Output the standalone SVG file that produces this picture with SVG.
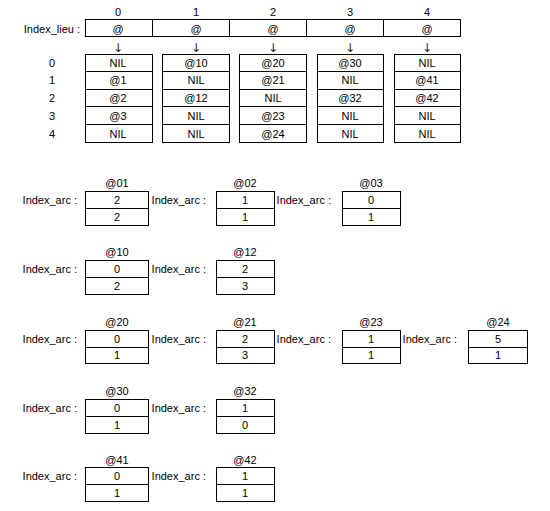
<svg xmlns="http://www.w3.org/2000/svg" width="550" height="511" viewBox="0 0 550 511">
<style>
text{font-family:"Liberation Sans","DejaVu Sans",sans-serif;font-size:11px;fill:#000}
.c{text-anchor:middle}
.r{text-anchor:end}
.a{font-family:"DejaVu Sans",sans-serif;font-size:12px;fill:#222}
.b{fill:#fff;stroke:#000;stroke-width:1}
.l{stroke:#000;stroke-width:1}
</style>
<rect width="550" height="511" fill="#fff"/>
<g id="index_lieu">
<text class="r" x="80" y="33">Index_lieu :</text>
<rect class="b" x="85.5" y="19.5" width="375" height="17"/>
<path class="l" d="M152.5 19.5V36.5M229.5 19.5V36.5M306.5 19.5V36.5M383.5 19.5V36.5"/>
<text class="c" x="118" y="16">0</text><text class="c" x="196" y="16">1</text><text class="c" x="273" y="16">2</text><text class="c" x="350" y="16">3</text><text class="c" x="427" y="16">4</text>
<text class="c" x="118" y="33">@</text><text class="c" x="196" y="33">@</text><text class="c" x="273" y="33">@</text><text class="c" x="350" y="33">@</text><text class="c" x="427" y="33">@</text>
</g>
<g id="connectors">
<text class="c a" x="118" y="52">↓</text><text class="c a" x="196" y="52">↓</text><text class="c a" x="273" y="52">↓</text><text class="c a" x="350" y="52">↓</text><text class="c a" x="427" y="52">↓</text>
</g>
<g id="row_labels">
<text class="c" x="52" y="67">0</text><text class="c" x="52" y="84">1</text><text class="c" x="52" y="102">2</text><text class="c" x="52" y="120">3</text><text class="c" x="52" y="138">4</text>
</g>
<g id="col0">
<rect class="b" x="85.5" y="54.5" width="67" height="88"/>
<path class="l" d="M85.5 71.5H152.5M85.5 89.5H152.5M85.5 106.5H152.5M85.5 124.5H152.5"/>
<text class="c" x="118" y="67">NIL</text><text class="c" x="118" y="84">@1</text><text class="c" x="118" y="102">@2</text><text class="c" x="118" y="120">@3</text><text class="c" x="118" y="138">NIL</text>
</g>
<g id="col1">
<rect class="b" x="162.5" y="54.5" width="67" height="88"/>
<path class="l" d="M162.5 71.5H229.5M162.5 89.5H229.5M162.5 106.5H229.5M162.5 124.5H229.5"/>
<text class="c" x="196" y="67">@10</text><text class="c" x="196" y="84">NIL</text><text class="c" x="196" y="102">@12</text><text class="c" x="196" y="120">NIL</text><text class="c" x="196" y="138">NIL</text>
</g>
<g id="col2">
<rect class="b" x="239.5" y="54.5" width="67" height="88"/>
<path class="l" d="M239.5 71.5H306.5M239.5 89.5H306.5M239.5 106.5H306.5M239.5 124.5H306.5"/>
<text class="c" x="273" y="67">@20</text><text class="c" x="273" y="84">@21</text><text class="c" x="273" y="102">NIL</text><text class="c" x="273" y="120">@23</text><text class="c" x="273" y="138">@24</text>
</g>
<g id="col3">
<rect class="b" x="317.5" y="54.5" width="66" height="88"/>
<path class="l" d="M317.5 71.5H383.5M317.5 89.5H383.5M317.5 106.5H383.5M317.5 124.5H383.5"/>
<text class="c" x="350" y="67">@30</text><text class="c" x="350" y="84">NIL</text><text class="c" x="350" y="102">@32</text><text class="c" x="350" y="120">NIL</text><text class="c" x="350" y="138">NIL</text>
</g>
<g id="col4">
<rect class="b" x="394.5" y="54.5" width="66" height="88"/>
<path class="l" d="M394.5 71.5H460.5M394.5 89.5H460.5M394.5 106.5H460.5M394.5 124.5H460.5"/>
<text class="c" x="427" y="67">NIL</text><text class="c" x="427" y="84">@41</text><text class="c" x="427" y="102">@42</text><text class="c" x="427" y="120">NIL</text><text class="c" x="427" y="138">NIL</text>
</g>

<g id="arc01">
<text class="c" x="117" y="187">@01</text><text class="r" x="77" y="204">Index_arc :</text>
<rect class="b" x="85.5" y="191.5" width="63" height="34"/><path class="l" d="M85.5 208.5H148.5"/>
<text class="c" x="117" y="204">2</text><text class="c" x="117" y="221">2</text>
</g>
<g id="arc02">
<text class="c" x="245" y="187">@02</text><text class="r" x="206" y="204">Index_arc :</text>
<rect class="b" x="216.5" y="191.5" width="58" height="34"/><path class="l" d="M216.5 208.5H274.5"/>
<text class="c" x="245" y="204">1</text><text class="c" x="245" y="221">1</text>
</g>
<g id="arc03">
<text class="c" x="371" y="187">@03</text><text class="r" x="331" y="204">Index_arc :</text>
<rect class="b" x="342.5" y="191.5" width="58" height="34"/><path class="l" d="M342.5 208.5H400.5"/>
<text class="c" x="371" y="204">0</text><text class="c" x="371" y="221">1</text>
</g>

<g id="arc10">
<text class="c" x="117" y="256">@10</text><text class="r" x="77" y="273">Index_arc :</text>
<rect class="b" x="85.5" y="260.5" width="63" height="34"/><path class="l" d="M85.5 277.5H148.5"/>
<text class="c" x="117" y="273">0</text><text class="c" x="117" y="290">2</text>
</g>
<g id="arc12">
<text class="c" x="245" y="256">@12</text><text class="r" x="206" y="273">Index_arc :</text>
<rect class="b" x="216.5" y="260.5" width="58" height="34"/><path class="l" d="M216.5 277.5H274.5"/>
<text class="c" x="245" y="273">2</text><text class="c" x="245" y="290">3</text>
</g>

<g id="arc20">
<text class="c" x="117" y="326">@20</text><text class="r" x="77" y="343">Index_arc :</text>
<rect class="b" x="85.5" y="330.5" width="63" height="33"/><path class="l" d="M85.5 347.5H148.5"/>
<text class="c" x="117" y="343">0</text><text class="c" x="117" y="359">1</text>
</g>
<g id="arc21">
<text class="c" x="245" y="326">@21</text><text class="r" x="206" y="343">Index_arc :</text>
<rect class="b" x="216.5" y="330.5" width="58" height="33"/><path class="l" d="M216.5 347.5H274.5"/>
<text class="c" x="245" y="343">2</text><text class="c" x="245" y="359">3</text>
</g>
<g id="arc23">
<text class="c" x="371" y="326">@23</text><text class="r" x="331" y="343">Index_arc :</text>
<rect class="b" x="342.5" y="330.5" width="58" height="33"/><path class="l" d="M342.5 347.5H400.5"/>
<text class="c" x="371" y="343">1</text><text class="c" x="371" y="359">1</text>
</g>
<g id="arc24">
<text class="c" x="498" y="326">@24</text><text class="r" x="457" y="343">Index_arc :</text>
<rect class="b" x="468.5" y="330.5" width="59" height="33"/><path class="l" d="M468.5 347.5H527.5"/>
<text class="c" x="498" y="343">5</text><text class="c" x="498" y="359">1</text>
</g>

<g id="arc30">
<text class="c" x="117" y="395">@30</text><text class="r" x="77" y="412">Index_arc :</text>
<rect class="b" x="85.5" y="399.5" width="63" height="34"/><path class="l" d="M85.5 416.5H148.5"/>
<text class="c" x="117" y="412">0</text><text class="c" x="117" y="429">1</text>
</g>
<g id="arc32">
<text class="c" x="245" y="395">@32</text><text class="r" x="206" y="412">Index_arc :</text>
<rect class="b" x="216.5" y="399.5" width="58" height="34"/><path class="l" d="M216.5 416.5H274.5"/>
<text class="c" x="245" y="412">1</text><text class="c" x="245" y="429">0</text>
</g>

<g id="arc41">
<text class="c" x="117" y="464">@41</text><text class="r" x="77" y="480">Index_arc :</text>
<rect class="b" x="85.5" y="467.5" width="63" height="34"/><path class="l" d="M85.5 484.5H148.5"/>
<text class="c" x="117" y="480">0</text><text class="c" x="117" y="497">1</text>
</g>
<g id="arc42">
<text class="c" x="245" y="464">@42</text><text class="r" x="206" y="480">Index_arc :</text>
<rect class="b" x="216.5" y="467.5" width="58" height="34"/><path class="l" d="M216.5 484.5H274.5"/>
<text class="c" x="245" y="480">1</text><text class="c" x="245" y="497">1</text>
</g>
</svg>
